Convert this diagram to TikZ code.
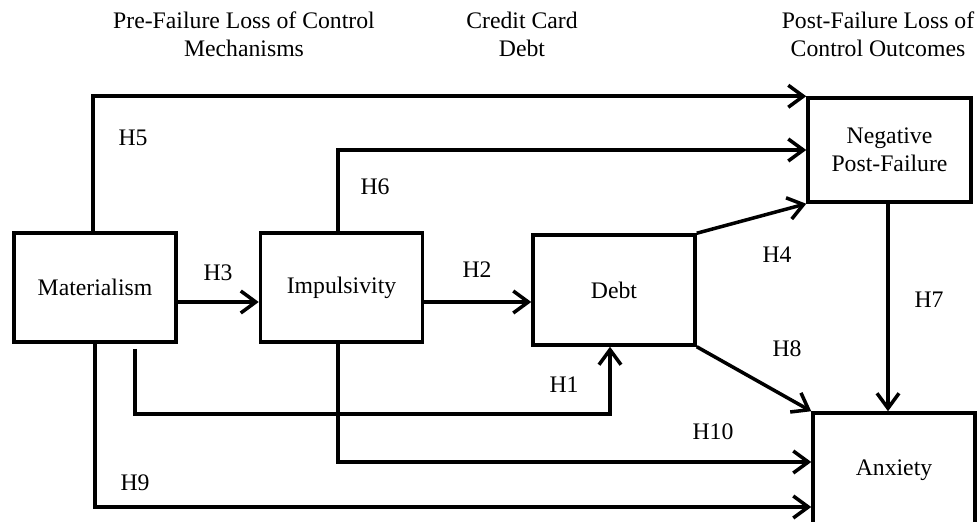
\documentclass[tikz,border=0pt]{standalone}
\usepackage{fontspec}
\setmainfont{Liberation Serif}
\usepackage{xcolor}
\usetikzlibrary{arrows.meta}

\tikzset{
  konstrukt/.style={draw, line width=2pt, minimum width=3.24cm, minimum height=2.18cm, inner sep=0pt, align=center},
  pfeil/.style={line width=2pt, -{Straight Barb[length=3mm,width=4.4mm,line width=2pt]}},
  hyp/.style={inner sep=0pt},
  kopf/.style={align=center, inner sep=0pt}
}

\begin{document}
\begin{tikzpicture}[font=\fontsize{13.5}{16}\selectfont]
  \clip (0,0) rectangle (19.6,10.42);
  % Ueberschriften
  \node[kopf] (kopfPre) at (4.88,9.74) {Pre-Failure Loss of Control\\Mechanisms};
  \node[kopf] (kopfDebt) at (10.44,9.74) {Credit Card\\Debt};
  \node[kopf] (kopfPost) at (17.56,9.74) {Post-Failure Loss of\\Control Outcomes};
  % Konstrukte
  \node[konstrukt] (mat) at (1.9,4.67) {Materialism};
  \node[konstrukt] (imp) at (6.83,4.67) {Impulsivity};
  \node[konstrukt, minimum height=2.2cm] (debt) at (12.28,4.62) {Debt};
  \node[konstrukt, minimum width=3.26cm, minimum height=2.08cm] (npf) at (17.79,7.42) {Negative\\Post-Failure};
  \node[konstrukt, minimum height=2.28cm] (anx) at (17.88,1.02) {Anxiety};
  % Hilfspunkte
  \coordinate (h3s) at ([yshift=-0.29cm]mat.east);
  \coordinate (h2s) at ([yshift=-0.29cm]imp.east);
  \coordinate (h1s) at ([xshift=0.8cm,yshift=-0.1cm]mat.south);
  \coordinate (h1e) at ([xshift=-0.08cm]debt.south);
  \coordinate (h5s) at ([xshift=-0.04cm]mat.north);
  \coordinate (h6s) at ([xshift=-0.07cm]imp.north);
  \coordinate (h10s) at ([xshift=-0.07cm]imp.south);
  \coordinate (h7s) at ([xshift=-0.03cm]npf.south);
  % Pfade
  \draw[pfeil] (h5s) |- (npf.north west);
  \draw[pfeil] (h6s) |- (npf.west);
  \draw[pfeil] (h3s) -- (h3s -| imp.west);
  \draw[pfeil] (h2s) -- (h2s -| debt.west);
  \draw[pfeil] (debt.north east) -- (npf.south west);
  \draw[pfeil] (debt.south east) -- (anx.north west);
  \draw[pfeil] (h7s) -- (h7s |- anx.north);
  \draw[pfeil] (h1s) -- ++(0,-1.3) -| (h1e);
  \draw[pfeil] (h10s) |- ([yshift=0.16cm]anx.west);
  \draw[pfeil] (mat.south) |- ([yshift=-0.74cm]anx.west);
  % Hypothesen
  \node[hyp] (lH5) at (2.66,7.66) {H5};
  \node[hyp] (lH6) at (7.5,6.68) {H6};
  \node[hyp] (lH3) at (4.36,4.96) {H3};
  \node[hyp] (lH2) at (9.54,5.02) {H2};
  \node[hyp] (lH4) at (15.54,5.32) {H4};
  \node[hyp] (lH7) at (18.58,4.42) {H7};
  \node[hyp] (lH8) at (15.74,3.44) {H8};
  \node[hyp] (lH1) at (11.28,2.72) {H1};
  \node[hyp] (lH10) at (14.26,1.78) {H10};
  \node[hyp] (lH9) at (2.7,0.76) {H9};
\end{tikzpicture}
\end{document}
